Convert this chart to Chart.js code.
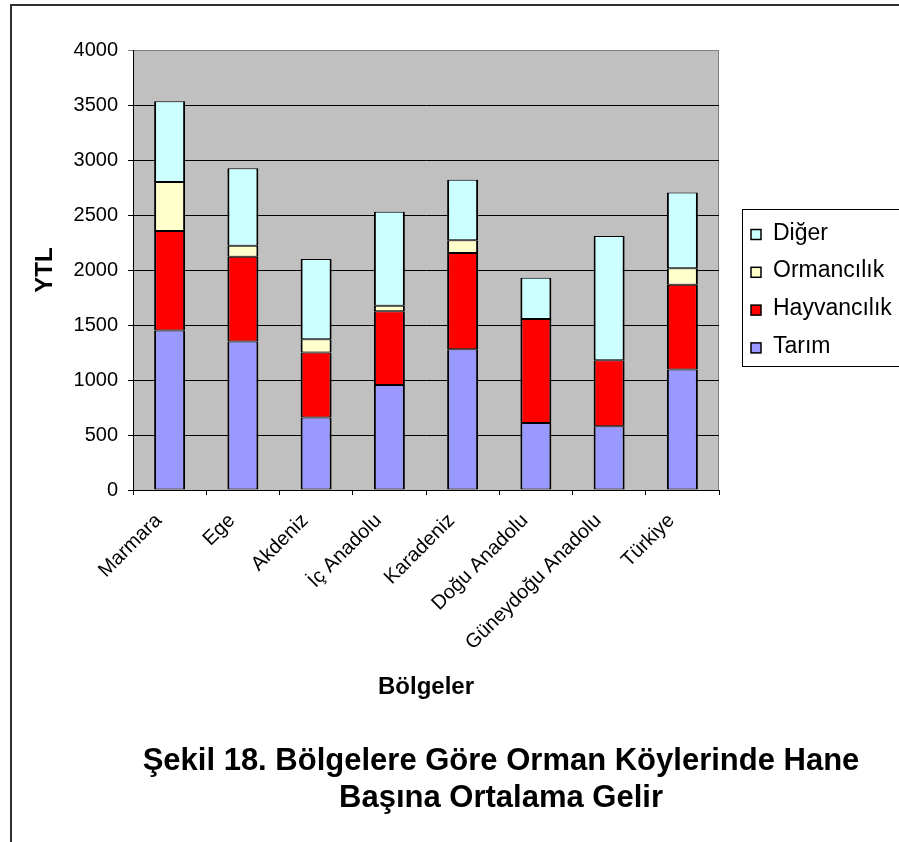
<!DOCTYPE html>
<html lang="tr">
<head>
    <meta charset="UTF-8">
    <title>Şekil 18 - Hane Başına Ortalama Gelir</title>
    <script src="https://cdn.jsdelivr.net/npm/chart.js@4.4.1/dist/chart.umd.min.js"></script>
    <style>
        body { margin: 0; background: #fff; }
        canvas { display: block; }
    </style>
</head>
<body>
    <canvas id="grafik" width="899" height="842"></canvas>

    <script>
        // Veriler (YTL)
        const bolgeler = ['Marmara', 'Ege', 'Akdeniz', 'İç Anadolu', 'Karadeniz', 'Doğu Anadolu', 'Güneydoğu Anadolu', 'Türkiye'];
        const tarim = [1450, 1350, 660, 955, 1280, 610, 580, 1095];
        const hayvancilik = [905, 770, 590, 670, 875, 945, 600, 770];
        const ormancilik = [445, 100, 120, 50, 115, 0, 0, 150];
        const diger = [735, 705, 730, 855, 550, 375, 1130, 690];
        const yMax = 4000;
        const yAdim = 500;

        const baslik = ['Şekil 18. Bölgelere Göre Orman Köylerinde Hane', 'Başına Ortalama Gelir'];

        const yazi = '"Liberation Sans", Arial, Helvetica, sans-serif';
        Chart.defaults.font.family = yazi;
        Chart.defaults.color = '#000';

        // gri çizim alanı + dış çerçeve, lejant kutusu ve alt başlık
        const arkaPlan = {
            id: 'arkaPlan',
            beforeDraw(chart) {
                const {ctx, chartArea: a} = chart;
                ctx.save();
                ctx.fillStyle = '#c0c0c0';
                ctx.fillRect(a.left, a.top, a.right - a.left, a.bottom - a.top);
                ctx.strokeStyle = '#808080';
                ctx.lineWidth = 1;
                ctx.beginPath();
                ctx.moveTo(a.left, a.top + 0.5);
                ctx.lineTo(a.right - 0.5, a.top + 0.5);
                ctx.lineTo(a.right - 0.5, a.bottom);
                ctx.stroke();
                ctx.restore();
            },
            afterDraw(chart) {
                const ctx = chart.ctx;
                ctx.save();

                // dış çerçeve
                ctx.strokeStyle = '#303030';
                ctx.lineWidth = 2;
                ctx.beginPath();
                ctx.moveTo(11, 850);
                ctx.lineTo(11, 5);
                ctx.lineTo(905, 5);
                ctx.stroke();

                // lejant
                ctx.fillStyle = '#fff';
                ctx.fillRect(742, 209, 170, 158);
                ctx.strokeStyle = '#000';
                ctx.lineWidth = 1;
                ctx.strokeRect(742.5, 209.5, 170, 157);

                const setler = chart.data.datasets.slice().reverse();
                ctx.font = '23px ' + yazi;
                ctx.textBaseline = 'alphabetic';
                ctx.textAlign = 'left';
                setler.forEach((ds, i) => {
                    const y = 239.5 + i * 37.8;
                    ctx.fillStyle = ds.backgroundColor;
                    ctx.fillRect(751, y - 10, 10, 10);
                    ctx.strokeStyle = '#000';
                    ctx.lineWidth = 1.5;
                    ctx.strokeRect(751, y - 10, 10, 10);
                    ctx.fillStyle = '#000';
                    ctx.fillText(ds.label, 773, y);
                });

                // başlık
                ctx.font = 'bold 31px ' + yazi;
                ctx.textAlign = 'center';
                ctx.textBaseline = 'middle';
                baslik.forEach((satir, i) => {
                    ctx.fillText(satir, 501, 761 + i * 37);
                });
                ctx.restore();
            }
        };

        const veri = {
            labels: bolgeler,
            datasets: [
                { label: 'Tarım', data: tarim, backgroundColor: '#9999ff' },
                { label: 'Hayvancılık', data: hayvancilik, backgroundColor: '#ff0000' },
                { label: 'Ormancılık', data: ormancilik, backgroundColor: '#ffffcc' },
                { label: 'Diğer', data: diger, backgroundColor: '#ccffff' }
            ]
        };
        veri.datasets.forEach(ds => {
            ds.borderColor = '#000';
            ds.borderWidth = { top: 1, bottom: 1, left: 2, right: 2 };
            ds.borderSkipped = false;
            ds.barPercentage = 0.423;
            ds.categoryPercentage = 1;
        });

        const grafik = new Chart(document.getElementById('grafik'), {
            type: 'bar',
            data: veri,
            plugins: [arkaPlan],
            options: {
                responsive: false,
                animation: false,
                layout: { padding: { top: 50, left: 10, right: 180, bottom: 140 } },
                plugins: {
                    legend: { display: false },
                    title: { display: false },
                    tooltip: { enabled: false }
                },
                scales: {
                    x: {
                        stacked: true,
                        afterFit: (s) => { s.height = 212; },
                        grid: {
                            offset: true,
                            drawOnChartArea: false,
                            drawTicks: true,
                            tickLength: 5,
                            color: '#000'
                        },
                        border: { display: true, color: '#000', width: 1 },
                        ticks: {
                            font: { size: 20 },
                            minRotation: 45,
                            maxRotation: 45,
                            autoSkip: false,
                            padding: 14,
                            labelOffset: -11
                        },
                        title: {
                            display: true,
                            text: 'Bölgeler',
                            font: { size: 24, weight: 'bold' },
                            padding: { top: 0, bottom: 0 }
                        }
                    },
                    y: {
                        stacked: true,
                        min: 0,
                        max: yMax,
                        afterFit: (s) => { s.width = 123; },
                        grid: {
                            color: (c) => c.tick && c.tick.value === yMax ? '#808080' : '#000',
                            tickLength: 5,
                            lineWidth: 1
                        },
                        border: { display: true, color: '#000', width: 1 },
                        ticks: {
                            stepSize: yAdim,
                            font: { size: 20 },
                            padding: 10,
                            callback: (v) => String(v)
                        },
                        title: {
                            display: true,
                            text: 'YTL',
                            font: { size: 24, weight: 'bold' },
                            padding: { top: 21, bottom: 0 }
                        }
                    }
                }
            }
        });
    </script>
</body>
</html>
